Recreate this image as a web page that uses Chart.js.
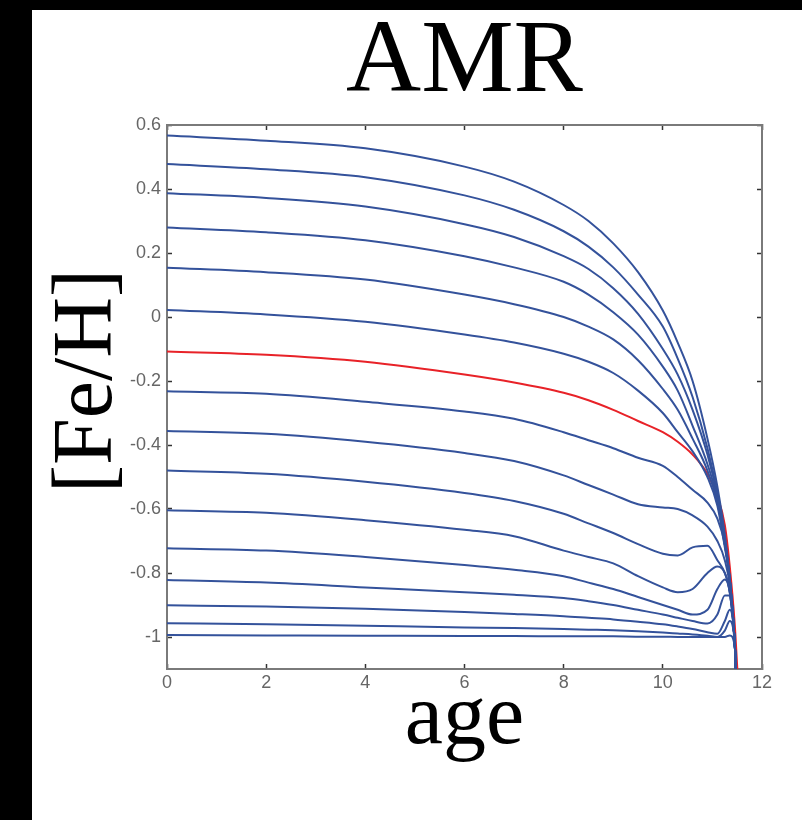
<!DOCTYPE html>
<html>
<head>
<meta charset="utf-8">
<title>AMR</title>
<script src="https://cdn.jsdelivr.net/npm/chart.js@4.4.1/dist/chart.umd.min.js"></script>
<style>
    html, body {
        margin: 0;
        padding: 0;
        width: 802px;
        height: 820px;
        overflow: hidden;
        background: #000;
    }
    #marco {
        position: absolute;
        left: 32px;
        top: 10px;
        width: 770px;
        height: 810px;
        background: #fff;
    }
</style>
</head>
<body>
<div id="marco">
    <canvas id="amr" width="770" height="810"></canvas>
</div>
<script>
const edades = [0, 2, 4, 6, 7, 8, 8.5, 9, 9.5, 10, 10.3, 10.6, 10.9, 11.1, 11.25, 11.35, 11.45, 11.52];

const feh1 = [0.567, 0.551, 0.527, 0.47, 0.423, 0.35, 0.30, 0.23, 0.14, 0.02, -0.08, -0.20, -0.38, -0.53, -0.68, -0.82, -1.02, -1.3];
const feh2 = [0.478, 0.462, 0.437, 0.38, 0.335, 0.268, 0.22, 0.155, 0.07, -0.03, -0.13, -0.25, -0.41, -0.55, -0.69, -0.82, -1.02, -1.3];
const feh3 = [0.387, 0.372, 0.345, 0.29, 0.25, 0.19, 0.15, 0.09, 0.01, -0.10, -0.18, -0.29, -0.43, -0.56, -0.70, -0.82, -1.02, -1.3];
const feh4 = [0.28, 0.265, 0.24, 0.19, 0.155, 0.11, 0.07, 0.015, -0.055, -0.155, -0.23, -0.34, -0.46, -0.57, -0.71, -0.82, -1.02, -1.3];
const feh5 = [0.154, 0.14, 0.117, 0.07, 0.04, 0.0, -0.03, -0.07, -0.135, -0.225, -0.29, -0.38, -0.48, -0.58, -0.71, -0.82, -1.02, -1.3];
const feh6 = [0.022, 0.008, -0.015, -0.055, -0.08, -0.115, -0.14, -0.175, -0.23, -0.30, -0.36, -0.42, -0.50, -0.59, -0.72, -0.82, -1.02, -1.3];
const feh7 = [-0.232, -0.24, -0.265, -0.295, -0.318, -0.36, -0.385, -0.41, -0.44, -0.465, -0.50, -0.54, -0.58, -0.63, -0.71, -0.82, -1.02, -1.3];
const feh8 = [-0.356, -0.365, -0.39, -0.425, -0.45, -0.495, -0.525, -0.555, -0.585, -0.595, -0.60, -0.62, -0.655, -0.70, -0.76, -0.84, -1.02, -1.3];
const feh9 = [-0.48, -0.49, -0.515, -0.55, -0.575, -0.615, -0.645, -0.675, -0.71, -0.74, -0.745, -0.72, -0.715, -0.76, -0.80, -0.86, -1.02, -1.3];
const feh10 = [-0.604, -0.612, -0.635, -0.665, -0.685, -0.73, -0.75, -0.77, -0.81, -0.845, -0.86, -0.85, -0.80, -0.78, -0.80, -0.86, -1.02, -1.3];
const feh11 = [-0.723, -0.73, -0.75, -0.775, -0.79, -0.81, -0.83, -0.85, -0.875, -0.90, -0.915, -0.93, -0.915, -0.85, -0.82, -0.86, -1.02, -1.3];
const feh12 = [-0.822, -0.83, -0.845, -0.86, -0.868, -0.878, -0.888, -0.90, -0.915, -0.93, -0.94, -0.95, -0.958, -0.93, -0.87, -0.87, -1.02, -1.3];
const feh13 = [-0.901, -0.905, -0.912, -0.922, -0.928, -0.935, -0.94, -0.945, -0.952, -0.96, -0.967, -0.975, -0.985, -0.99, -0.95, -0.915, -1.02, -1.3];
const feh14 = [-0.957, -0.96, -0.965, -0.97, -0.972, -0.975, -0.977, -0.979, -0.982, -0.986, -0.989, -0.992, -0.996, -1.0, -0.98, -0.95, -1.02, -1.3];
const feh15 = [-0.994, -0.995, -0.996, -0.997, -0.997, -0.998, -0.998, -0.998, -0.999, -0.999, -1.0, -1.0, -1.0, -1.0, -1.0, -0.995, -1.03, -1.3];
// curva destacada en rojo
const fehRoja = [-0.108, -0.118, -0.14, -0.18, -0.205, -0.237, -0.26, -0.29, -0.325, -0.36, -0.39, -0.43, -0.49, -0.56, -0.65, -0.78, -0.96, -1.15];

const ticksEdad = [0, 2, 4, 6, 8, 10, 12];
const ticksFeh = [-1, -0.8, -0.6, -0.4, -0.2, 0, 0.2, 0.4, 0.6];

const azul = "rgb(52, 82, 155)";
const rojo = "rgb(232, 34, 40)";
const gris = "#7a7a7a";

let myChart;

document.addEventListener("DOMContentLoaded", function() {
    dibujarGrafico();
});

function puntos(valores) {
    return edades.map((e, i) => ({ x: e, y: valores[i] }));
}

function serie(valores, color) {
    return {
        data: puntos(valores),
        borderColor: color,
        borderWidth: 2,
        pointRadius: 0,
        fill: false,
        cubicInterpolationMode: "monotone",
    };
}

// eje con marcas hacia dentro, estilo matlab
function eje(posicion, min, max, marcas, conEtiquetas) {
    return {
        type: "linear",
        position: posicion,
        min: min,
        max: max,
        afterBuildTicks: function(s) {
            s.ticks = marcas.map(v => ({ value: v }));
        },
        afterFit: function(s) {
            if (posicion == "left") s.width = 135;
            if (posicion == "bottom") s.height = 151;
            if (posicion == "top") s.height = 0;
            if (posicion == "right") s.width = 0;
            s.paddingTop = 0;
            s.paddingBottom = 0;
            s.paddingLeft = 0;
            s.paddingRight = 0;
        },
        border: { display: true, color: gris, width: 2 },
        grid: {
            drawOnChartArea: false,
            drawTicks: true,
            tickLength: -5,
            tickColor: "#333",
            tickWidth: 1.5,
        },
        ticks: {
            display: conEtiquetas,
            padding: posicion == "left" ? 11 : 8,
            color: "#666",
            font: { family: "'Liberation Sans', Arial, sans-serif", size: 18 },
            callback: v => String(v),
        },
    };
}

const etiquetaFeh = {
    id: "etiquetaFeh",
    afterDraw(chart) {
        const { ctx, chartArea } = chart;
        ctx.save();
        ctx.translate(chartArea.left - 78, chartArea.top + 256);
        ctx.rotate(-Math.PI / 2);
        ctx.font = "84px 'Liberation Serif'";
        ctx.fillStyle = "#000";
        ctx.textAlign = "center";
        ctx.textBaseline = "middle";
        ctx.fillText("[Fe/H]", 0, 0);
        ctx.restore();
    }
};

function dibujarGrafico() {
    const ctx = document.getElementById("amr").getContext("2d");
    const ejeX = eje("bottom", 0, 12, ticksEdad, true);
    ejeX.title = {
        display: true,
        text: "age",
        color: "#000",
        font: { family: "'Liberation Serif'", size: 86, lineHeight: 1 },
        padding: { top: 0, bottom: 57 },
    };
    myChart = new Chart(ctx, {
        type: "line",
        data: {
            datasets: [
                serie(feh1, azul),
                serie(feh2, azul),
                serie(feh3, azul),
                serie(feh4, azul),
                serie(feh5, azul),
                serie(feh6, azul),
                serie(feh7, azul),
                serie(feh8, azul),
                serie(feh9, azul),
                serie(feh10, azul),
                serie(feh11, azul),
                serie(feh12, azul),
                serie(feh13, azul),
                serie(feh14, azul),
                serie(feh15, azul),
                serie(fehRoja, rojo),
            ],
        },
        options: {
            responsive: false,
            animation: false,
            layout: { padding: { left: 0, right: 40, top: 0, bottom: 0 } },
            scales: {
                x: ejeX,
                y: eje("left", -1.1, 0.6, ticksFeh, true),
                x2: eje("top", 0, 12, ticksEdad, false),
                y2: eje("right", -1.1, 0.6, ticksFeh, false),
            },
            plugins: {
                legend: { display: false },
                tooltip: { enabled: false },
                title: {
                    display: true,
                    text: "AMR",
                    fullSize: false,
                    color: "#000",
                    font: { family: "'Liberation Serif'", size: 104, weight: "normal", lineHeight: 0.8 },
                    padding: { top: 12, bottom: 19.8 },
                },
            },
        },
        plugins: [etiquetaFeh],
    });
}
</script>
</body>
</html>
